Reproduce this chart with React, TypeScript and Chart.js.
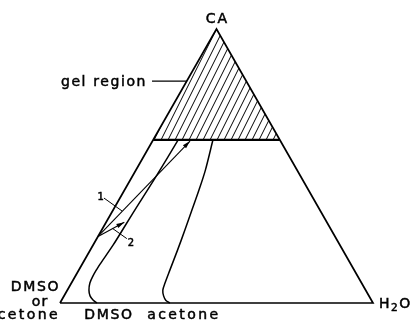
import React, { useEffect, useRef } from "react";
import { Chart, registerables } from "chart.js";

Chart.register(...registerables);

// Ternary compositions in percent (CA, H2O); solvent = 100 - CA - H2O
const TRI_CA = [0, 100, 0, 0];
const TRI_H2O = [0, 0, 100, 0];

const GEL_CA = 59.5;
const GEL_LINE_CA = [GEL_CA, GEL_CA];
const GEL_LINE_H2O = [0, 100 - GEL_CA];
const GEL_AREA_CA = [GEL_CA, 100, GEL_CA];
const GEL_AREA_H2O = [0, 0, 100 - GEL_CA];

const DMSO_CA = [0, 1.1, 2.6, 4.7, 7.3, 9.9, 12.4, 14.2, 21.2, 28.1, 36.9, 46.7, 59.5];
const DMSO_H2O = [11.8, 10.0, 8.3, 6.9, 5.9, 5.6, 5.6, 5.7, 6.4, 6.7, 7.1, 7.6, 8.0];

const ACETONE_CA = [0, 0.9, 2.6, 4.7, 7.3, 12.0, 19.3, 26.6, 33.9, 41.2, 48.5, 59.5];
const ACETONE_H2O = [35.1, 33.4, 31.8, 30.5, 29.9, 29.1, 27.9, 26.6, 25.2, 23.8, 22.2, 19.1];

const PATH1_CA = [24.3, 59.1];
const PATH1_H2O = [0, 12.0];
const PATH2_CA = [24.3, 29.5];
const PATH2_H2O = [0, 5.8];

const LEAD1_CA = [38.3, 33.6];
const LEAD1_H2O = [-5.1, 3.0];
const LEAD2_CA = [23.5, 27.2];
const LEAD2_H2O = [9.6, 3.2];
const LEADGEL_CA = [81, 81];
const LEADGEL_H2O = [-11.1, 0];

const toXY = (ca: number[], h2o: number[]) =>
  ca.map((c, i) => ({ x: (h2o[i] + c / 2) / 100, y: c / 100 }));

const FONT = '"DejaVu Sans", sans-serif';

type Label = {
  text: string;
  ca: number;
  h2o: number;
  dx: number;
  dy: number;
  align: CanvasTextAlign;
  size: number;
  spacing: number;
  sub?: string;
};

const LABELS: Label[] = [
  { text: "CA", ca: 100, h2o: 0, dx: 1, dy: -6, align: "center", size: 14, spacing: 2 },
  { text: "gel region", ca: 81, h2o: -11.1, dx: -5, dy: 4.5, align: "right", size: 14, spacing: 1.6 },
  { text: "DMSO", ca: 0, h2o: 0, dx: 0, dy: -12, align: "right", size: 14, spacing: 1.6 },
  { text: "or", ca: 0, h2o: 0, dx: -20, dy: 2.5, align: "center", size: 14, spacing: 1 },
  { text: "acetone", ca: 0, h2o: 0, dx: 0, dy: 16, align: "right", size: 14, spacing: 2.4 },
  { text: "DMSO", ca: 0, h2o: 11.8, dx: 12, dy: 16, align: "center", size: 14, spacing: 1.6 },
  { text: "acetone", ca: 0, h2o: 35.1, dx: 14, dy: 16, align: "center", size: 14, spacing: 2.4 },
  { text: "H", sub: "2", ca: 0, h2o: 100, dx: 6, dy: 5, align: "left", size: 14, spacing: 1.5 },
  { text: "1", ca: 38.3, h2o: -5.1, dx: 0, dy: 2, align: "right", size: 10, spacing: 0 },
  { text: "2", ca: 23.5, h2o: 9.6, dx: 1, dy: 7, align: "left", size: 10, spacing: 0 },
];

const labelPlugin = {
  id: "labels",
  afterDatasetsDraw(chart: any) {
    const ctx: CanvasRenderingContext2D = chart.ctx;
    const xs = chart.scales.x;
    const ys = chart.scales.y;
    ctx.save();
    ctx.fillStyle = "#000";
    ctx.strokeStyle = "#000";
    ctx.lineWidth = 0.5;
    ctx.textBaseline = "alphabetic";
    const draw = (t: string, x: number, y: number) => {
      ctx.fillText(t, x, y);
      ctx.strokeText(t, x, y);
    };
    for (const l of LABELS) {
      const px = xs.getPixelForValue((l.h2o + l.ca / 2) / 100) + l.dx;
      const py = ys.getPixelForValue(l.ca / 100) + l.dy;
      ctx.font = `${l.size}px ${FONT}`;
      (ctx as any).letterSpacing = `${l.spacing}px`;
      ctx.textAlign = l.align;
      if (l.sub) {
        let x = px;
        ctx.textAlign = "left";
        draw(l.text, x, py);
        x += ctx.measureText(l.text).width;
        ctx.font = `${l.size * 0.75}px ${FONT}`;
        draw(l.sub, x, py + 3);
        x += ctx.measureText(l.sub).width;
        ctx.font = `${l.size}px ${FONT}`;
        draw("O", x, py);
      } else {
        draw(l.text, px, py);
      }
    }
    ctx.restore();
  },
};

const arrowPlugin = {
  id: "arrows",
  afterDatasetsDraw(chart: any) {
    const ctx: CanvasRenderingContext2D = chart.ctx;
    chart.data.datasets.forEach((ds: any, i: number) => {
      if (!ds.arrow) return;
      const pts = chart.getDatasetMeta(i).data;
      const a = pts[pts.length - 2];
      const b = pts[pts.length - 1];
      const ang = Math.atan2(b.y - a.y, b.x - a.x);
      const len = 8;
      const hw = 2.2;
      ctx.save();
      ctx.translate(b.x, b.y);
      ctx.rotate(ang);
      ctx.beginPath();
      ctx.moveTo(0, 0);
      ctx.lineTo(-len, -hw);
      ctx.lineTo(-len, hw);
      ctx.closePath();
      ctx.fillStyle = "#000";
      ctx.fill();
      ctx.restore();
    });
  },
};

function makeHatch(): CanvasPattern | string {
  const c = document.createElement("canvas");
  const w = 7;
  const h = 14;
  c.width = w;
  c.height = h;
  const g = c.getContext("2d");
  if (!g) return "rgba(0,0,0,0.2)";
  g.strokeStyle = "#000";
  g.lineWidth = 1;
  for (let k = -1; k <= 1; k++) {
    g.beginPath();
    g.moveTo(k * w, h);
    g.lineTo(k * w + w, 0);
    g.stroke();
  }
  const p = g.createPattern(c, "repeat");
  return p || "rgba(0,0,0,0.2)";
}

export default function App() {
  const ref = useRef<HTMLCanvasElement | null>(null);

  useEffect(() => {
    document.body.style.margin = "0";
    const canvas = ref.current;
    if (!canvas) return;
    const hatch = makeHatch();
    const line = (data: any, width: number, extra: any = {}) => ({
      data,
      borderColor: "#000",
      borderWidth: width,
      pointRadius: 0,
      showLine: true,
      fill: false,
      tension: 0,
      clip: false,
      ...extra,
    });
    const chart = new Chart(canvas, {
      type: "scatter",
      data: {
        datasets: [
          line(toXY(TRI_CA, TRI_H2O), 1.7),
          line(toXY(GEL_LINE_CA, GEL_LINE_H2O), 2.2),
          line(toXY(DMSO_CA, DMSO_H2O), 1.5, { tension: 0.3 }),
          line(toXY(ACETONE_CA, ACETONE_H2O), 1.5, { tension: 0.3 }),
          line(toXY(PATH1_CA, PATH1_H2O), 1.1, { arrow: true }),
          line(toXY(PATH2_CA, PATH2_H2O), 1.1, { arrow: true }),
          line(toXY(LEAD1_CA, LEAD1_H2O), 1),
          line(toXY(LEAD2_CA, LEAD2_H2O), 1),
          line(toXY(LEADGEL_CA, LEADGEL_H2O), 1.3),
          line(toXY(GEL_AREA_CA, GEL_AREA_H2O), 0, {
            fill: { value: GEL_CA / 100 },
            backgroundColor: hatch,
            borderColor: "rgba(0,0,0,0)",
          }),
        ] as any,
      },
      options: {
        animation: false,
        responsive: false,
        devicePixelRatio: 1,
        layout: { padding: 0 },
        plugins: { legend: { display: false }, tooltip: { enabled: false } },
        events: [],
        scales: {
          x: { type: "linear", display: false, min: -0.19169, max: 1.1246 },
          y: { type: "linear", display: false, min: -0.06934, max: 1.10584 },
        },
      },
      plugins: [labelPlugin, arrowPlugin],
    });
    return () => chart.destroy();
  }, []);

  return (
    <div style={{ position: "absolute", left: 0, top: 0, width: 412, height: 322, background: "#fff" }}>
      <canvas ref={ref} width={412} height={322} />
    </div>
  );
}
